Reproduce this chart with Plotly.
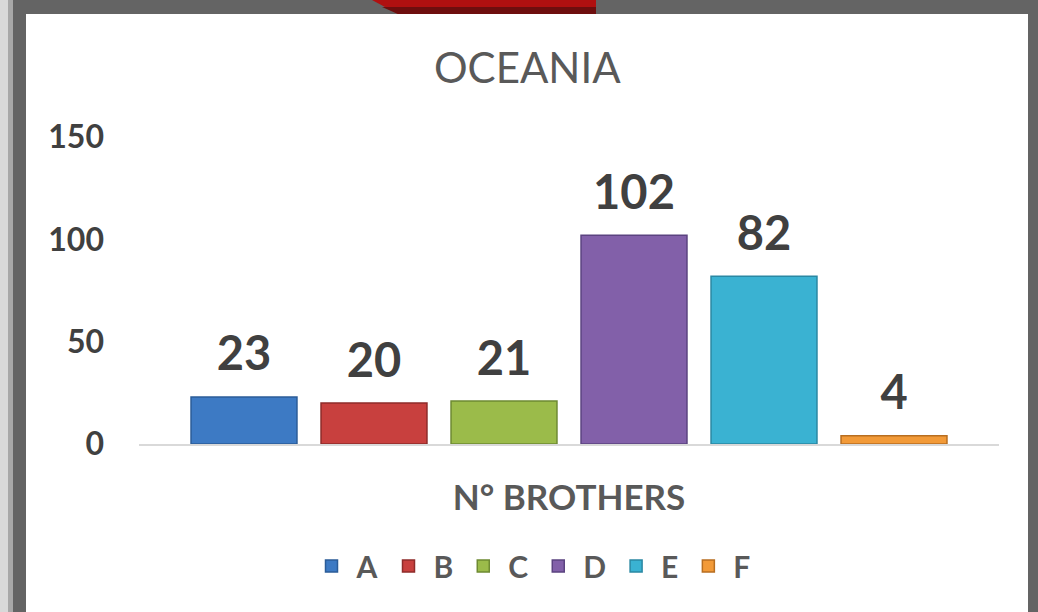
import plotly.graph_objects as go

category = ["N° BROTHERS"]
series_names = ["A", "B", "C", "D", "E", "F"]
series_values = [23, 20, 21, 102, 82, 4]
fill_colors = ["#3D7AC4", "#C8403E", "#9BBB4A", "#8260A9", "#3AB2D2", "#F29A38"]
edge_colors = ["#2B5C98", "#8E2B2A", "#6E8A32", "#5B4380", "#2A88A3", "#B86E20"]
y_ticks = [0, 50, 100, 150]
chart_title = "OCEANIA"

W, H = 1038, 612
ML, MR, MT, MB = 139, 39, 137, 168
PW, PH = W - ML - MR, H - MT - MB
FONT = "Lato"

def px_x(p):
    return (p - ML) / PW

def px_y(p):
    return (H - MB - p) / PH

fig = go.Figure()
for name, val, fc, ec in zip(series_names, series_values, fill_colors, edge_colors):
    fig.add_trace(go.Bar(
        x=category, y=[val], name=name, offsetgroup=name,
        marker=dict(color=fc, line=dict(color=ec, width=1.5)),
        hoverinfo="name+y",
    ))
for name, val in zip(series_names, series_values):
    fig.add_trace(go.Scatter(
        x=category, y=[val], offsetgroup=name, mode="markers+text",
        text=[str(val)], textposition="top center",
        textfont=dict(family=FONT, size=47, color="#404040", weight="bold"),
        marker=dict(size=22, opacity=0), showlegend=False, hoverinfo="skip",
        cliponaxis=False,
    ))

shapes = [
    dict(type="rect", xref="paper", yref="paper", x0=px_x(8), x1=px_x(W), y0=px_y(H), y1=px_y(0),
         fillcolor="#a8a8a8", line=dict(width=0), layer="below"),
    dict(type="rect", xref="paper", yref="paper", x0=px_x(13), x1=px_x(W), y0=px_y(H), y1=px_y(0),
         fillcolor="#646464", line=dict(width=0), layer="below"),
    dict(type="path", xref="paper", yref="paper",
         path=f"M{px_x(372)},{px_y(0)} L{px_x(596)},{px_y(0)} L{px_x(596)},{px_y(14)} L{px_x(398)},{px_y(14)} Z",
         fillcolor="#B01010", line=dict(width=0), layer="below"),
    dict(type="path", xref="paper", yref="paper",
         path=f"M{px_x(382)},{px_y(7)} L{px_x(596)},{px_y(7)} L{px_x(596)},{px_y(14)} L{px_x(398)},{px_y(14)} Z",
         fillcolor="#6E0E0E", line=dict(width=0), layer="below"),
    dict(type="rect", xref="paper", yref="paper", x0=px_x(26), x1=px_x(1028), y0=px_y(H), y1=px_y(14),
         fillcolor="#ffffff", line=dict(width=0), layer="below"),
]

fig.update_layout(
    width=W, height=H,
    margin=dict(l=ML, r=MR, t=MT, b=MB, autoexpand=False),
    paper_bgcolor="#d9d9d9", plot_bgcolor="rgba(0,0,0,0)",
    font=dict(family=FONT, color="#595959"),
    title=dict(text=chart_title, x=0.508, xanchor="center", y=1 - 68 / H, yanchor="middle",
               font=dict(family=FONT, size=42, color="#595959")),
    barmode="group", bargap=0.093, bargroupgap=0.185,
    scattermode="group", scattergap=0.093,
    showlegend=True,
    legend=dict(orientation="h", x=px_x(531), xanchor="center", y=px_y(566), yanchor="middle",
                font=dict(family=FONT, size=30, color="#595959", weight="bold"),
                bgcolor="rgba(0,0,0,0)", itemwidth=40, traceorder="normal"),
    shapes=shapes,
    xaxis=dict(showgrid=False, zeroline=False, showline=True, linecolor="#d9d9d9", linewidth=1.5,
               ticks="", ticklabelstandoff=22,
               tickfont=dict(family=FONT, size=35, color="#595959", weight="bold")),
    yaxis=dict(range=[0, 150], tickvals=y_ticks, showgrid=False, zeroline=False, showline=False,
               ticks="", ticklabelstandoff=34,
               tickfont=dict(family=FONT, size=32, color="#404040", weight="bold")),
    hovermode="closest",
)

fig.write_html("out.html", config={"displayModeBar": False},
               post_script="document.body.style.margin='0';document.body.style.overflow='hidden';")
